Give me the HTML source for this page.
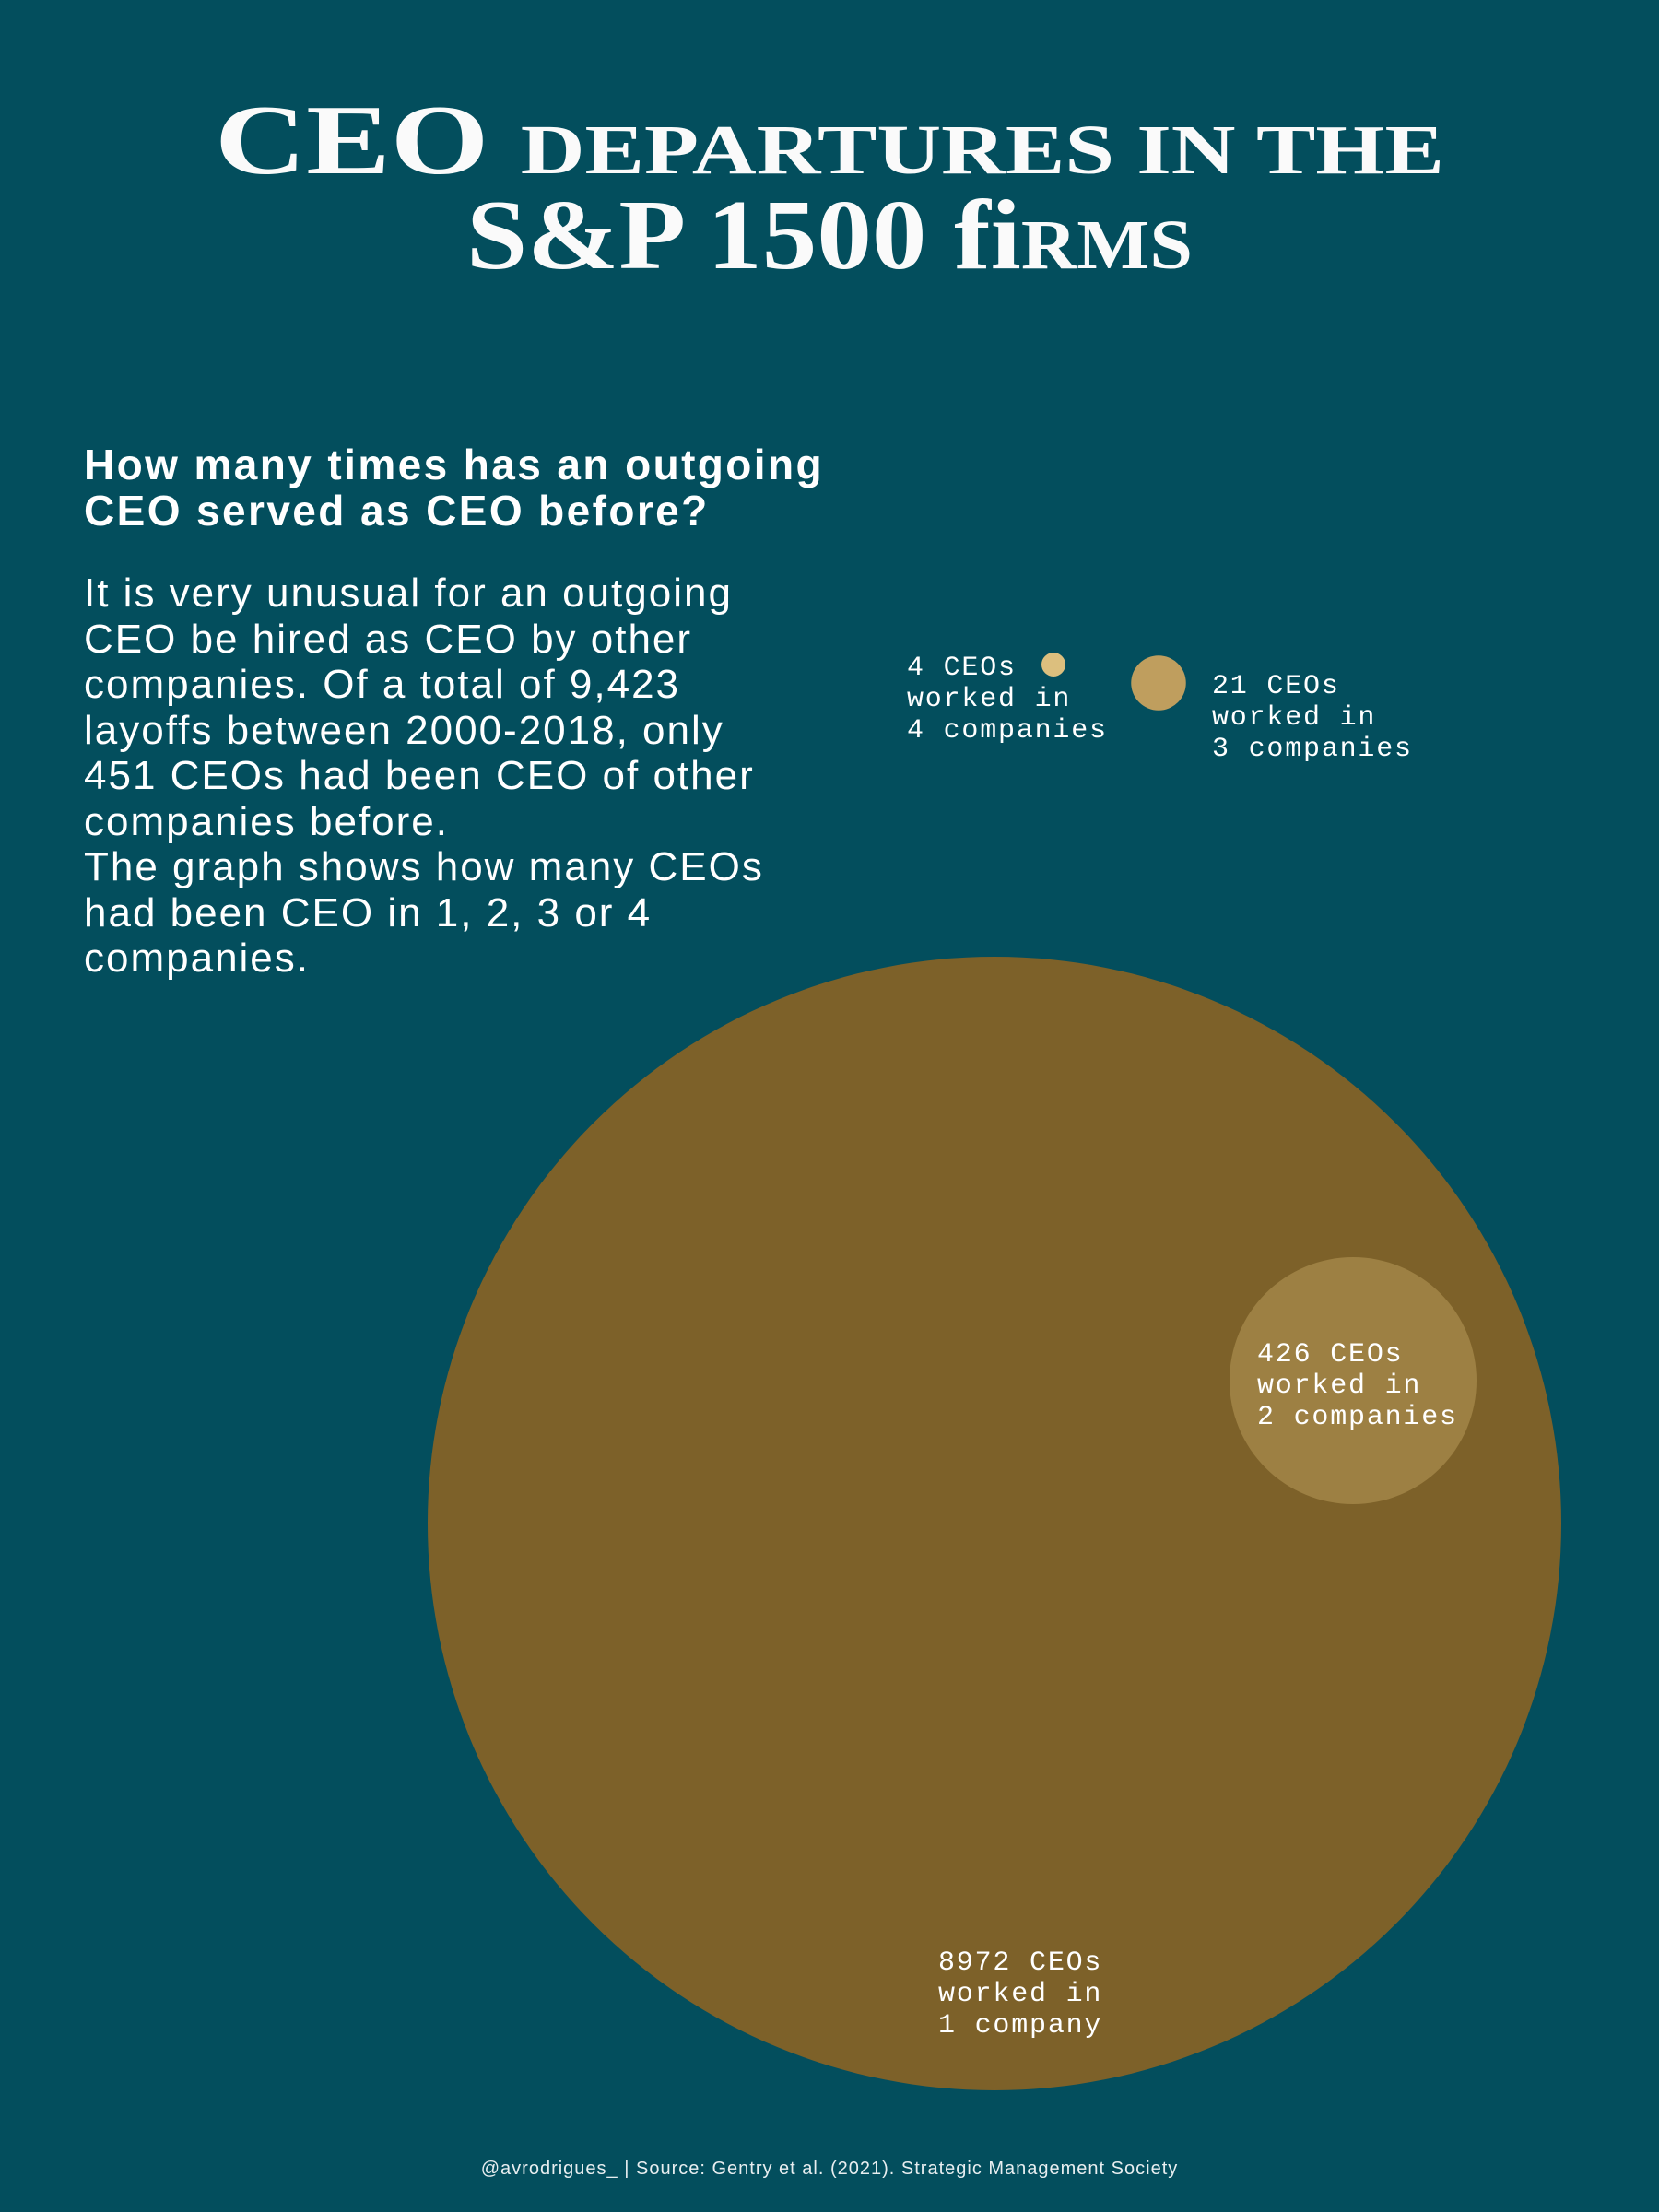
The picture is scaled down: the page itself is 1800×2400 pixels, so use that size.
<!DOCTYPE html>
<html><head><meta charset="utf-8"><style>
body{margin:0;background:#034e5d;}
svg{display:block}
</style></head><body>
<svg width="1800" height="2400" viewBox="0 0 1800 2400" xmlns="http://www.w3.org/2000/svg">
<rect width="1800" height="2400" fill="#034e5d"/>
<g fill="#fafafa" font-family="'Liberation Serif', serif" font-weight="bold" text-anchor="middle">
<text x="900" y="188" font-size="108" textLength="1334" lengthAdjust="spacingAndGlyphs">CEO <tspan font-size="76">DEPARTURES IN THE</tspan></text>
<text x="900" y="291" font-size="108" textLength="788" lengthAdjust="spacingAndGlyphs">S&amp;P 1500 fi<tspan font-size="76">RMS</tspan></text>
</g>
<g fill="#ffffff" font-family="'Liberation Sans', sans-serif" font-weight="bold" font-size="46" letter-spacing="2.4">
<text x="91" y="520">How many times has an outgoing</text>
<text x="91" y="570">CEO served as CEO before?</text>
</g>
<g fill="#ffffff" font-family="'Liberation Sans', sans-serif" font-size="44" letter-spacing="2">
<text x="91" y="658">It is very unusual for an outgoing</text>
<text x="91" y="708">CEO be hired as CEO by other</text>
<text x="91" y="757">companies. Of a total of 9,423</text>
<text x="91" y="807">layoffs between 2000-2018, only</text>
<text x="91" y="856">451 CEOs had been CEO of other</text>
<text x="91" y="906">companies before.</text>
<text x="91" y="955">The graph shows how many CEOs</text>
<text x="91" y="1005">had been CEO in 1, 2, 3 or 4</text>
<text x="91" y="1054">companies.</text>
</g>
<g id="bubbles"></g>
<text x="900" y="2359" fill="#e8eef0" font-family="'Liberation Sans', sans-serif" font-size="20" letter-spacing="1" text-anchor="middle">@avrodrigues_ | Source: Gentry et al. (2021). Strategic Management Society</text>
</svg>
<script>
const categories = ["1 company", "2 companies", "3 companies", "4 companies"];
const counts = [8972, 426, 21, 4];
const colors = ["#7d6129", "#9d8043", "#bf9e5e", "#dcbf7e"];
const centersX = [1079, 1468, 1257, 1143];
const centersY = [1653, 1498, 741, 721];
const labelPos = [[1018, 2137], [1364, 1477], [1315, 752], [984, 732]];
const k = 615 / Math.sqrt(8972);
const rScale = v => k * Math.sqrt(v);
const g = document.getElementById('bubbles');
const NS = 'http://www.w3.org/2000/svg';
counts.forEach((v, i) => {
  const c = document.createElementNS(NS, 'circle');
  c.setAttribute('cx', centersX[i]);
  c.setAttribute('cy', centersY[i]);
  c.setAttribute('r', rScale(v));
  c.setAttribute('fill', colors[i]);
  
  
  g.appendChild(c);
});
counts.forEach((v, i) => {
  const lines = [v + ' CEOs', 'worked in', categories[i]];
  lines.forEach((s, j) => {
    const t = document.createElementNS(NS, 'text');
    t.setAttribute('x', labelPos[i][0]);
    t.setAttribute('y', labelPos[i][1] + j * 34);
    t.setAttribute('fill', '#ffffff');
    t.setAttribute('font-family', "'Liberation Mono', 'DejaVu Sans Mono', monospace");
    t.setAttribute('font-size', '30');
    t.setAttribute('letter-spacing', '1.8');
    t.textContent = s;
    
    
    g.appendChild(t);
  });
});
</script>
</body></html>
